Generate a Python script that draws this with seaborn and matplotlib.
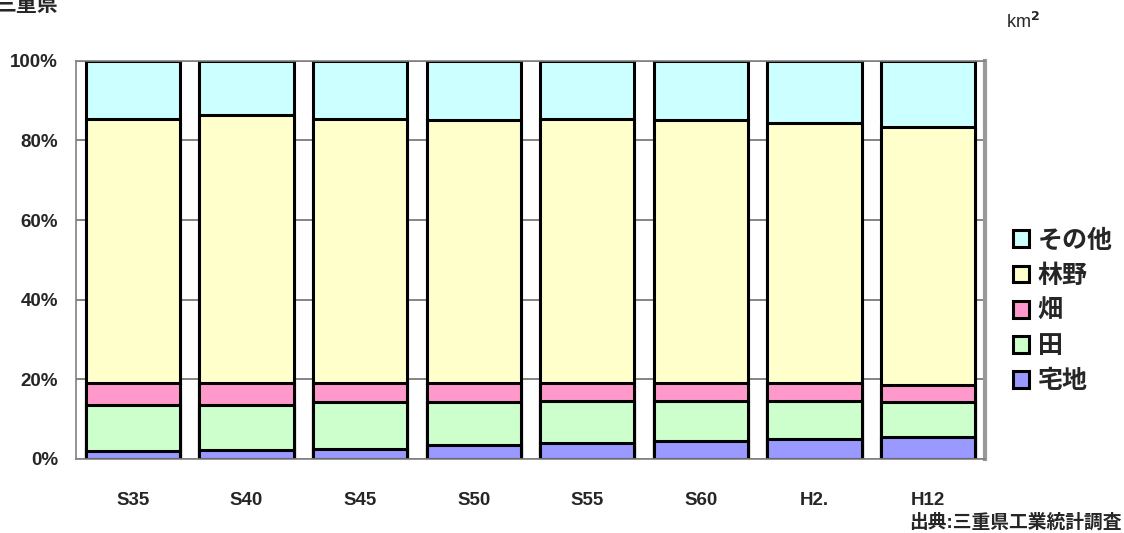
import numpy as np
import pandas as pd
import matplotlib
matplotlib.use("Agg")
import matplotlib.pyplot as plt
import seaborn as sns
from matplotlib.patches import Patch
from matplotlib.ticker import PercentFormatter, FixedLocator

# land use shares (%) in Mie prefecture
years = ['S35', 'S40', 'S45', 'S50', 'S55', 'S60', 'H2.', 'H12']
takuchi = [1.9, 2.2, 2.6, 3.4, 4.0, 4.5, 4.9, 5.4]        # 宅地
ta = [11.7, 11.4, 11.6, 10.8, 10.6, 10.1, 9.7, 9.0]         # 田
hatake = [5.5, 5.5, 4.9, 4.9, 4.5, 4.5, 4.5, 4.1]           # 畑
rinya = [66.3, 67.4, 66.3, 65.9, 66.3, 65.9, 65.2, 64.8]    # 林野
sonota = [14.6, 13.5, 14.6, 15.0, 14.6, 15.0, 15.7, 16.7]   # その他

layers = [('宅地', takuchi, '#9999FF'),
          ('田', ta, '#CCFFCC'),
          ('畑', hatake, '#FF99CC'),
          ('林野', rinya, '#FFFFCC'),
          ('その他', sonota, '#CCFFFF')]

sns.set_style('white')
plt.rcParams['font.family'] = ['Liberation Sans', 'Noto Sans CJK JP', 'DejaVu Sans']
plt.rcParams['font.weight'] = 'bold'

df = pd.DataFrame({name: vals for name, vals, c in layers}, index=years)
cum = df.cumsum(axis=1)

fig = plt.figure(figsize=(11.24, 5.33), dpi=100)
ax = fig.add_axes([0.0676, 0.139, 0.8087, 0.747])

# stacked bars: draw cumulative totals from the top layer down
for name, vals, color in reversed(layers):
    sns.barplot(x=years, y=cum[name].values, color=color, saturation=1,
                edgecolor='black', linewidth=2.2, width=0.83,
                errorbar=None, ax=ax, zorder=2)

ax.set_xlim(-0.5, 7.5)
ax.set_ylim(0, 100)
ax.set_yticks(range(0, 101, 20))
ax.yaxis.set_major_formatter(PercentFormatter(decimals=0))
ax.yaxis.grid(True, color='#707070', lw=1.2)
ax.set_axisbelow(True)
ax.set_xlabel('')
ax.set_ylabel('')

ax.tick_params(axis='y', length=0, pad=13, labelsize=13.5)
ax.tick_params(axis='x', length=0, pad=24, labelsize=13.5)
ax.xaxis.set_minor_locator(FixedLocator(np.arange(0.5, 7, 1)))
ax.tick_params(axis='x', which='minor', direction='in', length=5,
               color='#707070', width=1)

for s in ax.spines.values():
    s.set_color('#808080')
    s.set_linewidth(1.2)
ax.spines['right'].set_color('#999999')
ax.spines['right'].set_linewidth(3)

handles = [Patch(facecolor=c, edgecolor='black', linewidth=2.2, label=n)
           for n, v, c in reversed(layers)]
fig.legend(handles=handles, loc='center left',
           bbox_to_anchor=(990 / 1124, 1 - 311 / 533), frameon=False,
           fontsize=18, handlelength=0.65, handleheight=0.65,
           handletextpad=0.35, labelspacing=0.45)

fig.text(-0.004, 1 - 11 / 533, '三重県', fontsize=15, va='baseline', ha='left')
fig.text(1006 / 1124, 1 - 22 / 533, 'km$^{2}$', fontsize=13,
         fontweight='normal', va='center', ha='left')
fig.text(1122 / 1124, 1 - 522 / 533, '出典:三重県工業統計調査',
         fontsize=13.5, ha='right', va='center')

fig.savefig('out.png', dpi=100)
